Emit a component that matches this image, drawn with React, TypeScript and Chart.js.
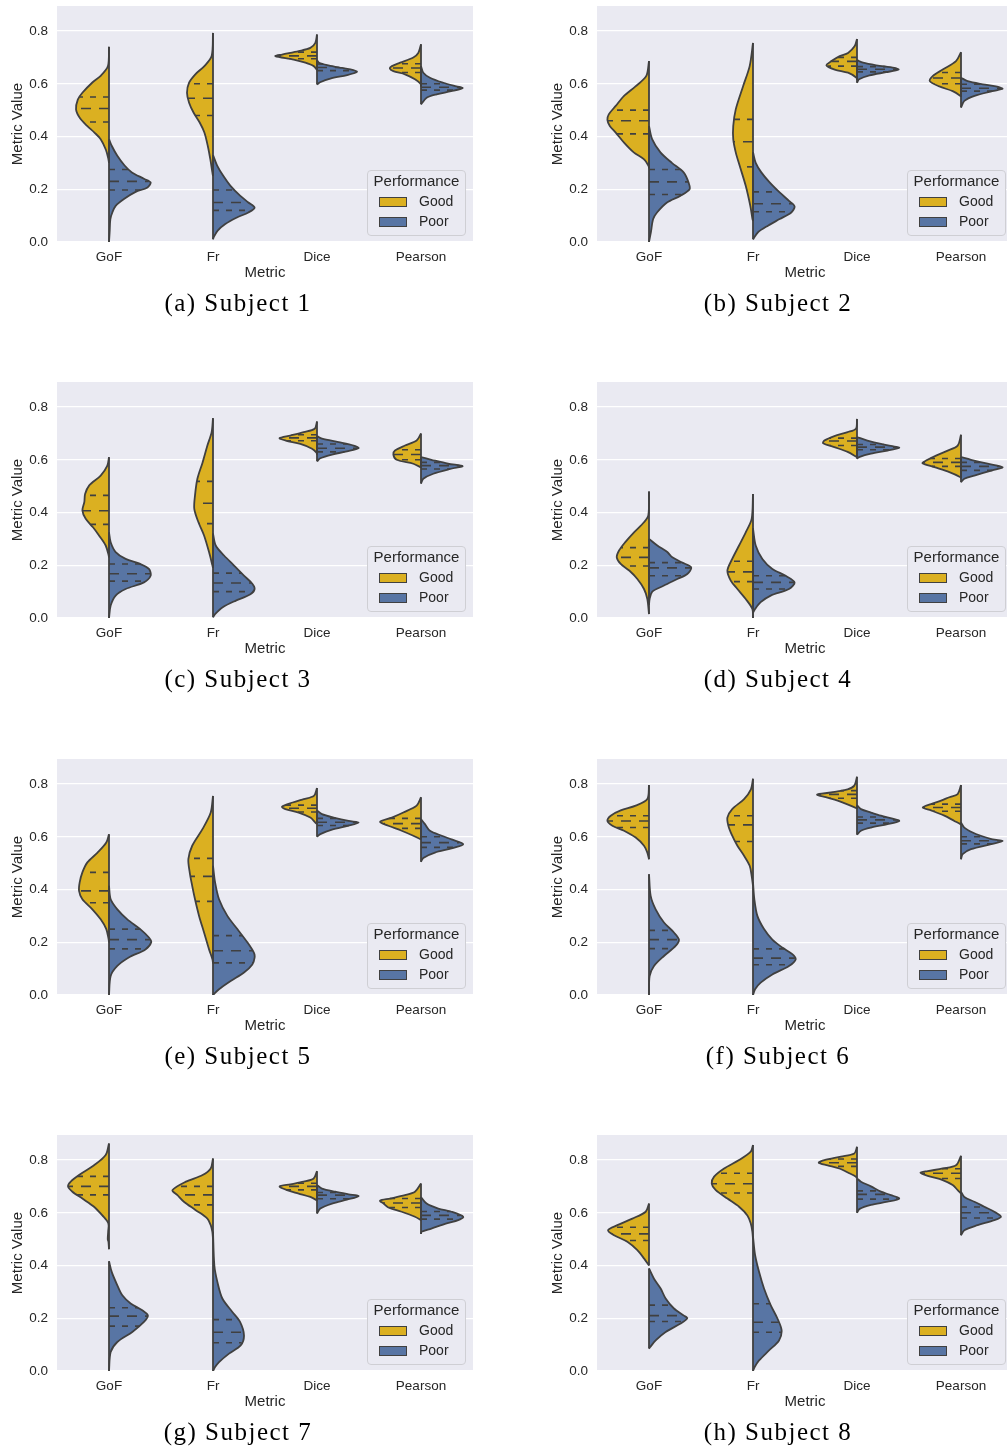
import React, { useEffect, useRef } from "react";
import { Chart, registerables } from "chart.js";

Chart.register(...registerables);

// ---------------- data ----------------
const METRICS = ["GoF", "Fr", "Dice", "Pearson"];
const HUES = ["Good", "Poor"];
const Y_TICKS = [0, 0.2, 0.4, 0.6, 0.8];
const CAPTIONS = [
  "(a) Subject 1",
  "(b) Subject 2",
  "(c) Subject 3",
  "(d) Subject 4",
  "(e) Subject 5",
  "(f) Subject 6",
  "(g) Subject 7",
  "(h) Subject 8",
];

// Each half-violin outline: [metric value, half width (category units)] from bottom to top.
// Quartile arrays: [Q1, median, Q3].
const S1_GOOD = [
  [[0.30,0],[0.315,0.006],[0.35,0.03],[0.39,0.08],[0.415,0.14],[0.44,0.21],[0.47,0.28],[0.503,0.317],[0.54,0.30],[0.566,0.256],[0.605,0.16],[0.63,0.08],[0.667,0.01],[0.74,0]],
  [[0.25,0],[0.264,0.006],[0.314,0.026],[0.364,0.05],[0.415,0.083],[0.453,0.128],[0.49,0.186],[0.528,0.23],[0.566,0.25],[0.604,0.23],[0.636,0.17],[0.667,0.083],[0.705,0.013],[0.793,0]],
  [[0.652,0],[0.667,0.032],[0.68,0.112],[0.692,0.224],[0.705,0.40],[0.711,0.336],[0.724,0.176],[0.736,0.064],[0.755,0.016],[0.787,0]],
  [[0.59,0],[0.6,0.005],[0.617,0.058],[0.636,0.154],[0.648,0.266],[0.658,0.30],[0.667,0.28],[0.68,0.2],[0.7,0.074],[0.717,0.026],[0.75,0]],
];
const S1_GOOD_Q = [[0.455,0.506,0.55],[0.48,0.545,0.60],[0.695,0.706,0.72],[0.643,0.66,0.676]];
const S1_POOR = [
  [[0,0],[0.037,0.006],[0.087,0.013],[0.112,0.032],[0.137,0.064],[0.163,0.144],[0.19,0.256],[0.207,0.37],[0.226,0.40],[0.24,0.336],[0.264,0.22],[0.29,0.15],[0.327,0.08],[0.365,0.026],[0.39,0]],
  [[0.01,0],[0.018,0.006],[0.043,0.045],[0.068,0.118],[0.093,0.23],[0.112,0.34],[0.13,0.40],[0.15,0.34],[0.176,0.26],[0.214,0.166],[0.25,0.10],[0.29,0.04],[0.33,0]],
  [[0.597,0],[0.606,0.03],[0.62,0.128],[0.633,0.29],[0.645,0.384],[0.652,0.35],[0.66,0.24],[0.67,0.11],[0.68,0.02],[0.69,0]],
  [[0.522,0],[0.547,0.054],[0.56,0.15],[0.572,0.29],[0.584,0.40],[0.59,0.34],[0.604,0.214],[0.623,0.086],[0.642,0.022],[0.667,0]],
];
const S1_POOR_Q = [[0.197,0.23,0.275],[0.12,0.15,0.197],[0.65,0.662,0.675],[0.576,0.587,0.6]];

const S2_GOOD = [
  [[0.28,0],[0.289,0.005],[0.314,0.05],[0.34,0.147],[0.377,0.24],[0.415,0.32],[0.44,0.377],[0.463,0.40],[0.484,0.387],[0.516,0.32],[0.554,0.24],[0.59,0.13],[0.63,0.026],[0.686,0]],
  [[0.08,0],[0.087,0.005],[0.137,0.026],[0.213,0.07],[0.289,0.128],[0.34,0.166],[0.39,0.19],[0.44,0.19],[0.503,0.166],[0.59,0.096],[0.667,0.032],[0.755,0]],
  [[0.615,0],[0.623,0.005],[0.642,0.086],[0.654,0.214],[0.67,0.294],[0.686,0.246],[0.705,0.166],[0.717,0.086],[0.743,0.022],[0.77,0]],
  [[0.55,0],[0.554,0.005],[0.572,0.08],[0.59,0.208],[0.61,0.30],[0.63,0.27],[0.654,0.176],[0.686,0.048],[0.72,0]],
];
const S2_GOOD_Q = [[0.41,0.46,0.50],[0.285,0.38,0.465],[0.667,0.685,0.70],[0.60,0.622,0.643]];
const S2_POOR = [
  [[0,0],[0.037,0.018],[0.087,0.04],[0.112,0.077],[0.15,0.173],[0.175,0.30],[0.2,0.39],[0.226,0.38],[0.264,0.333],[0.30,0.22],[0.34,0.11],[0.39,0.03],[0.44,0]],
  [[0.01,0],[0.037,0.048],[0.062,0.144],[0.087,0.256],[0.112,0.368],[0.135,0.40],[0.156,0.346],[0.188,0.256],[0.226,0.16],[0.264,0.08],[0.30,0.026],[0.34,0]],
  [[0.604,0],[0.617,0.02],[0.632,0.12],[0.644,0.28],[0.654,0.40],[0.66,0.36],[0.67,0.186],[0.68,0.058],[0.69,0]],
  [[0.51,0],[0.535,0.032],[0.554,0.13],[0.572,0.30],[0.581,0.40],[0.59,0.336],[0.598,0.21],[0.61,0.064],[0.623,0]],
];
const S2_POOR_Q = [[0.18,0.228,0.275],[0.115,0.145,0.19],[0.645,0.655,0.665],[0.572,0.583,0.598]];

const S3_GOOD = [
  [[0.23,0],[0.237,0.003],[0.275,0.032],[0.313,0.096],[0.344,0.154],[0.376,0.224],[0.408,0.256],[0.44,0.237],[0.47,0.23],[0.503,0.19],[0.54,0.08],[0.578,0.016],[0.61,0]],
  [[0.19,0],[0.2,0.006],[0.25,0.038],[0.313,0.086],[0.363,0.14],[0.414,0.18],[0.465,0.173],[0.528,0.15],[0.59,0.10],[0.654,0.054],[0.705,0.013],[0.758,0]],
  [[0.62,0],[0.627,0.005],[0.642,0.048],[0.66,0.16],[0.673,0.30],[0.682,0.36],[0.692,0.256],[0.705,0.128],[0.718,0.022],[0.745,0]],
  [[0.57,0],[0.572,0.005],[0.585,0.074],[0.6,0.234],[0.62,0.266],[0.635,0.25],[0.654,0.154],[0.673,0.042],[0.70,0]],
];
const S3_GOOD_Q = [[0.355,0.407,0.465],[0.358,0.435,0.518],[0.672,0.683,0.695],[0.60,0.62,0.638]];
const S3_POOR = [
  [[0,0],[0.047,0.016],[0.085,0.064],[0.11,0.16],[0.135,0.336],[0.16,0.40],[0.186,0.384],[0.205,0.30],[0.224,0.16],[0.25,0.064],[0.287,0.016],[0.325,0]],
  [[0.003,0],[0.015,0.02],[0.04,0.09],[0.066,0.22],[0.09,0.36],[0.11,0.40],[0.13,0.378],[0.16,0.30],[0.2,0.2],[0.237,0.106],[0.275,0.026],[0.32,0]],
  [[0.594,0],[0.606,0.032],[0.62,0.144],[0.632,0.288],[0.644,0.40],[0.654,0.352],[0.667,0.208],[0.68,0.048],[0.69,0]],
  [[0.51,0],[0.528,0.022],[0.547,0.118],[0.566,0.29],[0.576,0.40],[0.585,0.26],[0.6,0.10],[0.61,0]],
];
const S3_POOR_Q = [[0.14,0.168,0.205],[0.10,0.133,0.17],[0.63,0.644,0.66],[0.565,0.578,0.59]];

const S4_GOOD = [
  [[0.015,0],[0.072,0.016],[0.11,0.048],[0.148,0.112],[0.18,0.19],[0.205,0.272],[0.23,0.31],[0.256,0.288],[0.287,0.23],[0.325,0.144],[0.363,0.048],[0.39,0.006],[0.48,0]],
  [[0,0],[0.034,0.006],[0.072,0.07],[0.11,0.15],[0.142,0.214],[0.18,0.246],[0.224,0.2],[0.275,0.134],[0.325,0.07],[0.376,0.013],[0.47,0]],
  [[0.61,0],[0.63,0.09],[0.648,0.218],[0.663,0.326],[0.673,0.314],[0.69,0.218],[0.705,0.09],[0.718,0.01],[0.755,0]],
  [[0.53,0],[0.534,0.005],[0.553,0.112],[0.572,0.256],[0.587,0.37],[0.597,0.336],[0.616,0.24],[0.635,0.128],[0.654,0.032],[0.695,0]],
];
const S4_GOOD_Q = [[0.197,0.23,0.267],[0.138,0.175,0.215],[0.654,0.671,0.682],[0.575,0.59,0.605]];
const S4_POOR = [
  [[0.05,0],[0.072,0.006],[0.10,0.032],[0.123,0.144],[0.148,0.272],[0.167,0.368],[0.192,0.406],[0.21,0.32],[0.23,0.224],[0.25,0.176],[0.275,0.08],[0.30,0]],
  [[0.02,0],[0.034,0.02],[0.06,0.074],[0.085,0.17],[0.11,0.346],[0.135,0.40],[0.16,0.314],[0.186,0.186],[0.224,0.09],[0.275,0.026],[0.34,0]],
  [[0.604,0],[0.61,0.02],[0.623,0.134],[0.635,0.294],[0.646,0.406],[0.65,0.36],[0.66,0.23],[0.673,0.1],[0.686,0]],
  [[0.515,0],[0.528,0.032],[0.54,0.128],[0.56,0.30],[0.572,0.40],[0.585,0.256],[0.60,0.096],[0.61,0]],
];
const S4_POOR_Q = [[0.16,0.19,0.21],[0.11,0.135,0.16],[0.638,0.648,0.658],[0.56,0.575,0.59]];

const S5_GOOD = [
  [[0.2,0],[0.21,0.003],[0.25,0.026],[0.287,0.08],[0.325,0.16],[0.363,0.256],[0.395,0.288],[0.427,0.282],[0.465,0.256],[0.503,0.208],[0.54,0.11],[0.578,0.026],[0.61,0]],
  [[0.12,0],[0.135,0.005],[0.173,0.038],[0.237,0.086],[0.30,0.134],[0.363,0.173],[0.414,0.2],[0.465,0.224],[0.515,0.237],[0.566,0.2],[0.63,0.10],[0.692,0.022],[0.755,0]],
  [[0.648,0],[0.654,0.016],[0.673,0.064],[0.692,0.176],[0.705,0.304],[0.714,0.336],[0.73,0.234],[0.743,0.128],[0.755,0.03],[0.785,0]],
  [[0.59,0],[0.604,0.074],[0.623,0.186],[0.642,0.314],[0.657,0.394],[0.673,0.28],[0.692,0.17],[0.718,0.042],[0.75,0]],
];
const S5_GOOD_Q = [[0.35,0.395,0.465],[0.355,0.45,0.518],[0.694,0.708,0.72],[0.632,0.65,0.67]];
const S5_POOR = [
  [[0,0],[0.072,0.016],[0.11,0.08],[0.142,0.19],[0.173,0.35],[0.2,0.406],[0.218,0.384],[0.25,0.30],[0.287,0.176],[0.325,0.08],[0.363,0.016],[0.414,0]],
  [[0,0],[0.022,0.058],[0.053,0.17],[0.085,0.298],[0.116,0.378],[0.142,0.40],[0.16,0.394],[0.2,0.33],[0.25,0.234],[0.30,0.138],[0.363,0.058],[0.427,0.02],[0.49,0]],
  [[0.6,0],[0.61,0.032],[0.627,0.144],[0.642,0.304],[0.654,0.40],[0.66,0.304],[0.673,0.16],[0.686,0.048],[0.70,0]],
  [[0.505,0],[0.52,0.022],[0.54,0.134],[0.556,0.294],[0.572,0.406],[0.59,0.294],[0.604,0.2],[0.623,0.086],[0.648,0.038],[0.667,0]],
];
const S5_POOR_Q = [[0.175,0.21,0.25],[0.122,0.168,0.225],[0.643,0.655,0.67],[0.56,0.578,0.60]];

const S6_GOOD = [
  [[0.515,0],[0.54,0.016],[0.566,0.048],[0.597,0.128],[0.623,0.24],[0.642,0.352],[0.66,0.40],[0.68,0.368],[0.70,0.272],[0.718,0.128],[0.743,0.016],[0.796,0]],
  [[0.414,0],[0.452,0.013],[0.49,0.032],[0.528,0.086],[0.566,0.15],[0.604,0.2],[0.642,0.237],[0.673,0.246],[0.705,0.2],[0.743,0.086],[0.78,0.02],[0.82,0]],
  [[0.705,0],[0.708,0.005],[0.72,0.074],[0.737,0.186],[0.75,0.30],[0.76,0.384],[0.768,0.25],[0.78,0.09],[0.794,0.026],[0.828,0]],
  [[0.645,0],[0.648,0.005],[0.66,0.064],[0.68,0.16],[0.70,0.288],[0.711,0.368],[0.724,0.288],[0.737,0.192],[0.75,0.112],[0.762,0.032],[0.796,0]],
];
const S6_GOOD_Q = [[0.635,0.66,0.68],[0.582,0.645,0.68],[0.746,0.761,0.775],[0.697,0.711,0.724]];
const S6_POOR = [
  [[0,0],[0.072,0.006],[0.11,0.048],[0.148,0.144],[0.186,0.256],[0.21,0.288],[0.237,0.24],[0.275,0.144],[0.325,0.064],[0.376,0.016],[0.458,0]],
  [[0,0],[0.022,0.02],[0.047,0.074],[0.078,0.186],[0.11,0.346],[0.135,0.41],[0.155,0.378],[0.18,0.282],[0.21,0.186],[0.25,0.106],[0.30,0.042],[0.363,0.013],[0.427,0]],
  [[0.608,0],[0.623,0.038],[0.635,0.134],[0.648,0.294],[0.66,0.406],[0.667,0.36],[0.68,0.23],[0.692,0.134],[0.705,0.038],[0.72,0]],
  [[0.515,0],[0.534,0.016],[0.553,0.096],[0.572,0.29],[0.584,0.40],[0.59,0.304],[0.604,0.19],[0.616,0.112],[0.635,0.032],[0.654,0]],
];
const S6_POOR_Q = [[0.176,0.21,0.245],[0.115,0.14,0.175],[0.652,0.664,0.675],[0.573,0.585,0.60]];

const S7_GOOD = [
  [[0.462,0],[0.49,0.005],[0.50,0.012],[0.528,0.008],[0.56,0.006],[0.59,0.064],[0.623,0.144],[0.654,0.256],[0.68,0.352],[0.70,0.394],[0.718,0.368],[0.743,0.288],[0.78,0.144],[0.819,0.032],[0.863,0]],
  [[0.50,0],[0.528,0.006],[0.553,0.022],[0.578,0.054],[0.61,0.166],[0.642,0.28],[0.667,0.342],[0.686,0.39],[0.718,0.26],[0.743,0.10],[0.768,0.022],[0.806,0]],
  [[0.645,0],[0.648,0.005],[0.66,0.064],[0.673,0.176],[0.686,0.288],[0.70,0.36],[0.708,0.256],[0.718,0.128],[0.73,0.032],[0.758,0]],
  [[0.572,0],[0.585,0.058],[0.604,0.186],[0.62,0.314],[0.635,0.36],[0.646,0.394],[0.654,0.298],[0.667,0.154],[0.68,0.058],[0.711,0]],
];
const S7_GOOD_Q = [[0.668,0.70,0.738],[0.63,0.668,0.70],[0.687,0.70,0.712],[0.62,0.637,0.654]];
const S7_POOR = [
  [[0,0],[0.072,0.016],[0.11,0.08],[0.148,0.224],[0.186,0.336],[0.21,0.374],[0.23,0.32],[0.256,0.208],[0.287,0.128],[0.325,0.08],[0.376,0.026],[0.416,0]],
  [[0,0],[0.015,0.02],[0.034,0.058],[0.066,0.154],[0.097,0.266],[0.135,0.298],[0.186,0.26],[0.224,0.186],[0.275,0.09],[0.338,0.042],[0.40,0.013],[0.528,0]],
  [[0.597,0],[0.616,0.032],[0.635,0.144],[0.65,0.288],[0.663,0.40],[0.67,0.304],[0.68,0.176],[0.692,0.048],[0.705,0]],
  [[0.52,0],[0.528,0.005],[0.54,0.10],[0.56,0.246],[0.572,0.358],[0.585,0.406],[0.604,0.294],[0.616,0.166],[0.635,0.054],[0.66,0]],
];
const S7_POOR_Q = [[0.17,0.208,0.24],[0.107,0.147,0.195],[0.653,0.667,0.677],[0.576,0.59,0.605]];

const S8_GOOD = [
  [[0.40,0],[0.427,0.048],[0.458,0.112],[0.49,0.208],[0.515,0.336],[0.534,0.394],[0.553,0.304],[0.578,0.16],[0.604,0.032],[0.635,0]],
  [[0.50,0],[0.528,0.006],[0.56,0.022],[0.59,0.054],[0.623,0.134],[0.654,0.246],[0.686,0.358],[0.711,0.397],[0.737,0.374],[0.768,0.278],[0.80,0.134],[0.832,0.022],[0.857,0]],
  [[0.73,0],[0.737,0.01],[0.75,0.074],[0.768,0.17],[0.78,0.282],[0.79,0.368],[0.80,0.314],[0.813,0.154],[0.825,0.026],[0.85,0]],
  [[0.673,0],[0.686,0.032],[0.705,0.08],[0.724,0.176],[0.74,0.32],[0.752,0.39],[0.758,0.32],[0.768,0.176],[0.78,0.048],[0.816,0]],
];
const S8_GOOD_Q = [[0.495,0.52,0.545],[0.675,0.71,0.75],[0.776,0.79,0.804],[0.73,0.75,0.767]];
const S8_POOR = [
  [[0.085,0],[0.09,0.01],[0.116,0.064],[0.148,0.16],[0.18,0.304],[0.20,0.368],[0.21,0.336],[0.237,0.24],[0.275,0.16],[0.313,0.112],[0.35,0.048],[0.389,0]],
  [[0,0],[0.015,0.016],[0.04,0.058],[0.078,0.154],[0.116,0.25],[0.155,0.275],[0.2,0.234],[0.25,0.17],[0.313,0.106],[0.376,0.058],[0.44,0.02],[0.51,0]],
  [[0.60,0],[0.614,0.022],[0.63,0.134],[0.642,0.294],[0.654,0.406],[0.667,0.326],[0.68,0.23],[0.70,0.134],[0.718,0.038],[0.73,0]],
  [[0.515,0],[0.534,0.032],[0.553,0.16],[0.572,0.32],[0.585,0.384],[0.604,0.32],[0.623,0.224],[0.642,0.128],[0.66,0.032],[0.68,0]],
];
const S8_POOR_Q = [[0.188,0.21,0.25],[0.147,0.185,0.255],[0.652,0.67,0.683],[0.58,0.60,0.622]];

const SUBJECT_GOOD = [S1_GOOD, S2_GOOD, S3_GOOD, S4_GOOD, S5_GOOD, S6_GOOD, S7_GOOD, S8_GOOD];
const SUBJECT_GOOD_Q = [S1_GOOD_Q, S2_GOOD_Q, S3_GOOD_Q, S4_GOOD_Q, S5_GOOD_Q, S6_GOOD_Q, S7_GOOD_Q, S8_GOOD_Q];
const SUBJECT_POOR = [S1_POOR, S2_POOR, S3_POOR, S4_POOR, S5_POOR, S6_POOR, S7_POOR, S8_POOR];
const SUBJECT_POOR_Q = [S1_POOR_Q, S2_POOR_Q, S3_POOR_Q, S4_POOR_Q, S5_POOR_Q, S6_POOR_Q, S7_POOR_Q, S8_POOR_Q];

// ---------------- style ----------------
const GOOD_COLOR = "rgb(219,176,33)";
const POOR_COLOR = "rgb(88,117,164)";
const EDGE = "#404040";
const TEXT = "#262626";
const BG = "#EAEAF2";
const SANS = "'Liberation Sans', Arial, sans-serif";
const SERIF = "'Liberation Serif', 'Times New Roman', serif";

const CANVAS_W = 490;
const CANVAS_H = 290;

function widthAt(shape: number[][], y: number): number {
  for (let i = 0; i < shape.length - 1; i++) {
    const [y0, w0] = shape[i];
    const [y1, w1] = shape[i + 1];
    if (y >= y0 && y <= y1) {
      const t = y1 === y0 ? 0 : (y - y0) / (y1 - y0);
      return w0 + t * (w1 - w0);
    }
  }
  return 0;
}

function buildDatasets(idx: number) {
  const ds: any[] = [];
  const halves = [
    { shapes: SUBJECT_GOOD[idx], quarts: SUBJECT_GOOD_Q[idx], side: -1, color: GOOD_COLOR },
    { shapes: SUBJECT_POOR[idx], quarts: SUBJECT_POOR_Q[idx], side: 1, color: POOR_COLOR },
  ];
  METRICS.forEach((_, m) => {
    halves.forEach((h) => {
      const shape = h.shapes[m];
      ds.push({
        data: shape.map(([y, w]) => ({ x: m + h.side * w, y })),
        showLine: true,
        fill: "shape",
        backgroundColor: h.color,
        borderColor: EDGE,
        borderWidth: 1.8,
        tension: 0.3,
        pointRadius: 0,
        borderJoinStyle: "round",
        order: 3,
      });
      ds.push({
        data: [
          { x: m, y: shape[0][0] },
          { x: m, y: shape[shape.length - 1][0] },
        ],
        showLine: true,
        fill: false,
        borderColor: EDGE,
        borderWidth: 1.8,
        pointRadius: 0,
        order: 2,
      });
      h.quarts[m].forEach((q, k) => {
        const w = widthAt(shape, q);
        ds.push({
          data: [
            { x: m, y: q },
            { x: m + h.side * w, y: q },
          ],
          showLine: true,
          fill: false,
          borderColor: EDGE,
          borderWidth: 1.6,
          borderDash: k === 1 ? [10, 8] : [6, 7],
          pointRadius: 0,
          order: 1,
        });
      });
    });
  });
  return ds;
}

const bgPlugin = {
  id: "axesBg",
  beforeDraw(chart: any) {
    const { ctx, chartArea } = chart;
    if (!chartArea) return;
    ctx.save();
    ctx.fillStyle = BG;
    ctx.fillRect(chartArea.left, chartArea.top, chartArea.right - chartArea.left, chartArea.bottom - chartArea.top);
    ctx.restore();
  },
};

function Subplot({ idx }: { idx: number }) {
  const ref = useRef<HTMLCanvasElement | null>(null);
  useEffect(() => {
    if (!ref.current) return;
    const chart = new Chart(ref.current, {
      type: "scatter",
      data: { datasets: buildDatasets(idx) },
      plugins: [bgPlugin],
      options: {
        responsive: false,
        animation: false,
        events: [],
        layout: { padding: { top: 6, left: 0, right: CANVAS_W - 473, bottom: 0 } },
        plugins: { legend: { display: false }, tooltip: { enabled: false } },
        scales: {
          x: {
            type: "linear",
            min: -0.5,
            max: 3.5,
            afterBuildTicks: (s: any) => {
              s.ticks = METRICS.map((_, i) => ({ value: i }));
            },
            afterFit: (s: any) => {
              s.height = CANVAS_H - 242;
              s.paddingLeft = 0;
              s.paddingRight = 0;
            },
            ticks: {
              callback: (v: any) => METRICS[Math.round(Number(v))],
              padding: 7,
              autoSkip: false,
              maxRotation: 0,
              color: TEXT,
              font: { family: SANS, size: 13.5 },
            },
            grid: { display: false, drawTicks: false },
            border: { display: false },
            title: {
              display: true,
              text: "Metric",
              color: TEXT,
              font: { family: SANS, size: 15 },
              padding: { top: 0, bottom: 8.5 },
            },
          },
          y: {
            type: "linear",
            min: 0,
            max: 0.895,
            afterBuildTicks: (s: any) => {
              s.ticks = Y_TICKS.map((v) => ({ value: v }));
            },
            afterFit: (s: any) => {
              s.width = 57;
              s.paddingTop = 0;
              s.paddingBottom = 0;
            },
            ticks: {
              callback: (v: any) => Number(v).toFixed(1),
              padding: 9,
              color: TEXT,
              font: { family: SANS, size: 13.5 },
            },
            grid: { color: "#ffffff", lineWidth: 1.2, drawTicks: false },
            border: { display: false },
            title: {
              display: true,
              text: "Metric Value",
              color: TEXT,
              font: { family: SANS, size: 15 },
              padding: { top: 9, bottom: 0 },
            },
          },
        },
      } as any,
    });
    return () => chart.destroy();
  }, [idx]);

  const col = idx % 2;
  const row = Math.floor(idx / 2);
  return (
    <div
      style={{
        position: "absolute",
        left: col * 540,
        top: Math.round(row * 376.3),
        width: CANVAS_W,
        height: 320,
      }}
    >
      <canvas ref={ref} width={CANVAS_W} height={CANVAS_H} style={{ display: "block" }} />
      <div
        style={{
          position: "absolute",
          left: 367,
          top: 170,
          width: 99,
          height: 66,
          boxSizing: "border-box",
          border: "1px solid #cfcfd4",
          borderRadius: 4,
          background: BG,
          fontFamily: SANS,
          color: TEXT,
        }}
      >
        <div
          style={{
            position: "absolute",
            left: 0,
            width: 97,
            top: 1,
            textAlign: "center",
            fontSize: 15,
            lineHeight: "18px",
          }}
        >
          Performance
        </div>
        {HUES.map((h, i) => (
          <React.Fragment key={h}>
            <div
              style={{
                position: "absolute",
                left: 11,
                top: 26 + i * 20,
                width: 28,
                height: 10,
                boxSizing: "border-box",
                border: `1px solid ${EDGE}`,
                background: i === 0 ? GOOD_COLOR : POOR_COLOR,
              }}
            />
            <div
              style={{
                position: "absolute",
                left: 51,
                top: 22 + i * 20,
                fontSize: 14,
                lineHeight: "17px",
              }}
            >
              {h}
            </div>
          </React.Fragment>
        ))}
      </div>
      <div
        style={{
          position: "absolute",
          left: 0,
          width: 476,
          top: 288,
          textAlign: "center",
          fontFamily: SERIF,
          fontSize: 25,
          letterSpacing: "1.5px",
          lineHeight: "30px",
          color: "#000",
          whiteSpace: "nowrap",
        }}
      >
        {CAPTIONS[idx]}
      </div>
    </div>
  );
}

export default function App() {
  return (
    <div
      style={{
        position: "absolute",
        left: 0,
        top: 0,
        width: 1007,
        height: 1448,
        overflow: "hidden",
        background: "#fff",
      }}
    >
      {CAPTIONS.map((_, i) => (
        <Subplot key={i} idx={i} />
      ))}
    </div>
  );
}
